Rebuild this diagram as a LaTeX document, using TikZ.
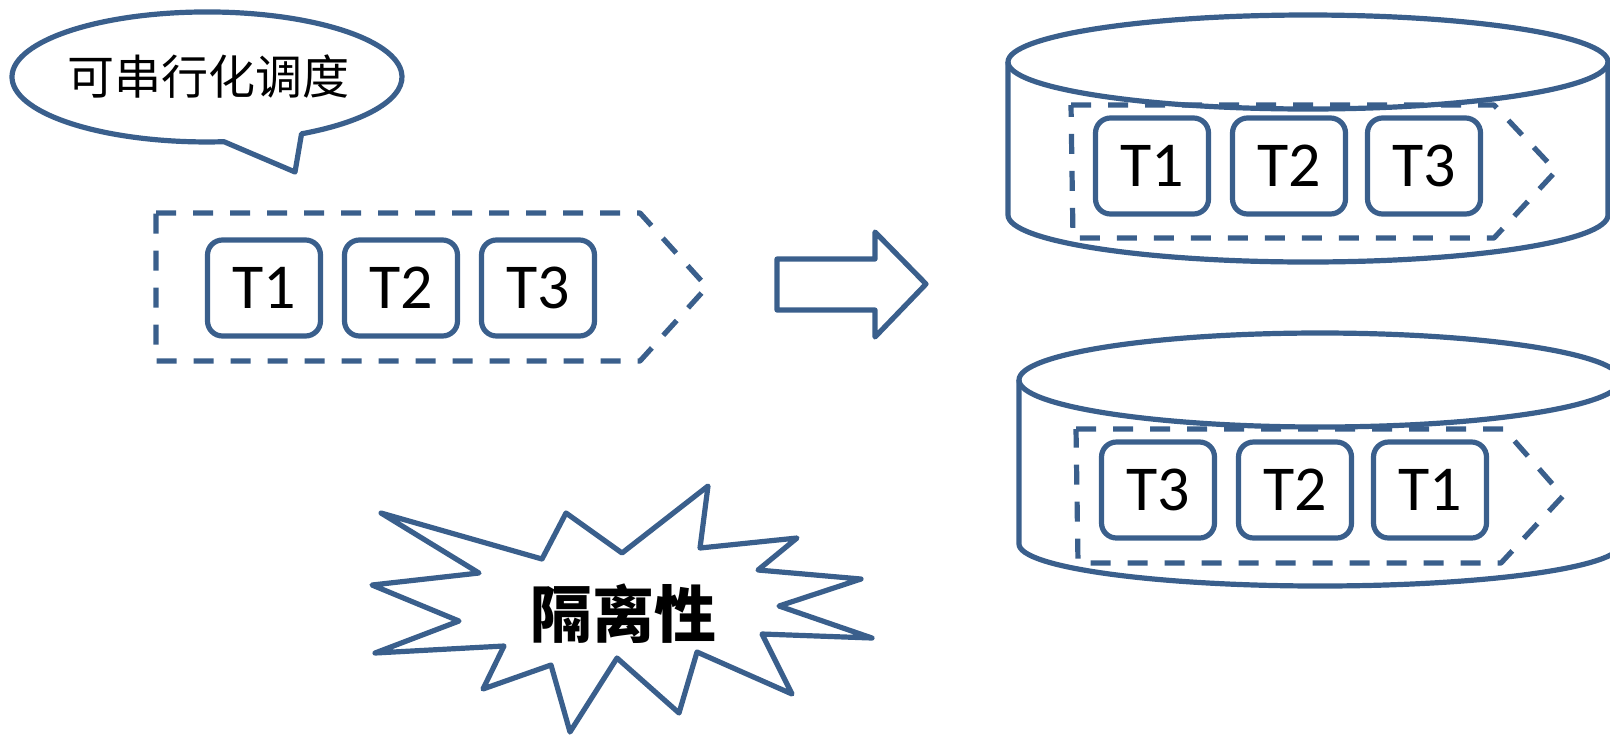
\documentclass[tikz,border=0pt]{standalone}
\usepackage{fontspec}
\setmainfont{Carlito}
\newfontfamily\cjk{Noto Sans CJK SC}
\definecolor{edge}{RGB}{58,95,140}
\begin{document}
\begin{tikzpicture}[x=0.5pt,y=-0.5pt,line join=round,
  outline/.style={draw=edge,line width=2.6pt},
  queue/.style={outline,dash pattern=on 10pt off 8.5pt},
  txn/.style={outline,rounded corners=7.5pt,minimum width=56.5pt,minimum height=48pt,inner sep=0pt,font=\fontsize{32}{36}\selectfont},
  note/.style={font=\cjk\fontsize{23.5}{26}\selectfont}]
\useasboundingbox (0,0) rectangle (1610,735);
\clip (0,0) rectangle (1610,735);
\draw[outline] (224,141.7) arc[start angle=85,end angle=421,x radius=195,y radius=65] -- (295,172) -- cycle;
\node[note] (serial) at (208,77) {可串行化调度};
\draw[queue] (156,213) -- (640,213) -- (707,287) -- (640,361) -- (156,361) -- cycle;
\node[txn] (a1) at (264,288) {T1};
\node[txn] (a2) at (401,288) {T2};
\node[txn] (a3) at (538,288) {T3};
\draw[outline] (777,259) -- (875,259) -- (875,232) -- (926,284) -- (875,337) -- (875,310) -- (777,310) -- cycle;
\draw[outline] (1008,62) -- (1008,215) arc[start angle=180,end angle=0,x radius=300,y radius=47] -- (1608,62);
\draw[outline] (1308,62) ellipse[x radius=300,y radius=47];
\draw[queue] (1071,105) -- (1494,105) -- (1556,171) -- (1494,238) -- (1073,238) -- cycle;
\node[txn] (b1) at (1152,166) {T1};
\node[txn] (b2) at (1289,166) {T2};
\node[txn] (b3) at (1424,166) {T3};
\draw[outline] (1019,380) -- (1019,544) arc[start angle=180,end angle=0,x radius=301,y radius=42] -- (1621,380);
\draw[outline] (1320,380) ellipse[x radius=301,y radius=47];
\draw[queue] (1076,429) -- (1504,429) -- (1563,496) -- (1501,563) -- (1078,563) -- cycle;
\node[txn] (c3) at (1158,490) {T3};
\node[txn] (c2) at (1295,490) {T2};
\node[txn] (c1) at (1430,490) {T1};
\draw[outline] (381,513) -- (542,559) -- (566,513) -- (622,553) -- (708,486) -- (700,548)
  -- (797,538) -- (758,570) -- (861,579) -- (779,606) -- (872,638) -- (762,634)
  -- (792,694) -- (697,652) -- (679,713) -- (617,658) -- (570,732) -- (551,665)
  -- (483,689) -- (504,646) -- (375,653) -- (459,621) -- (372,585) -- (479,573) -- cycle;
\node[note,font=\cjk\bfseries\fontsize{31}{34}\selectfont] (iso) at (623,614) {隔离性};
\end{tikzpicture}
\end{document}
